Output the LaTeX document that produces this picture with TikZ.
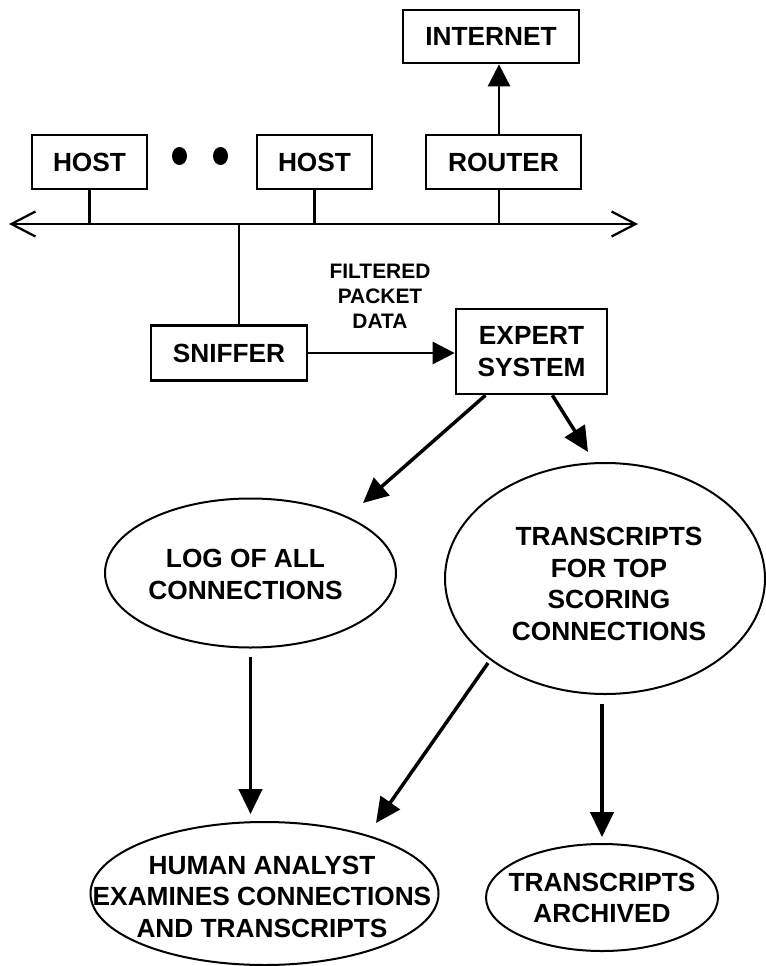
\documentclass[tikz,border=0pt]{standalone}
\usepackage{fontspec}
\setmainfont{Liberation Sans}
\usetikzlibrary{arrows.meta,shapes.geometric,calc}
\begin{document}
\begin{tikzpicture}[x=0.75pt,y=-0.75pt,
  boxnode/.style={draw, line width=2pt, rectangle, inner sep=0pt, align=center,
    font=\bfseries\fontsize{19.7pt}{23.6pt}\selectfont},
  ellnode/.style={draw, line width=1.5pt, ellipse, inner sep=0pt},
  txtnode/.style={inner sep=0pt, align=center, font=\bfseries\fontsize{19.7pt}{23.6pt}\selectfont},
  lblnode/.style={inner sep=0pt, align=center, font=\bfseries\fontsize{15.7pt}{18.75pt}\selectfont},
  wireline/.style={line width=1.7pt},
  arrthin/.style={line width=2pt, -{Triangle[length=16.5pt,width=16.5pt]}},
  arrthick/.style={line width=2.6pt, -{Triangle[length=18.75pt,width=17.5pt]}},
  blackdot/.style={ellipse, fill, inner sep=0pt, minimum width=11.25pt, minimum height=13.5pt}
]
\useasboundingbox (0,0) rectangle (765,966);

% boxes
\node[boxnode, minimum width=132pt, minimum height=39.75pt] (internet) at (491,36.5) {INTERNET};
\node[boxnode, minimum width=86.25pt, minimum height=40.5pt] (host1) at (89.5,162) {HOST};
\node[blackdot] (dot1) at (179.5,156) {};
\node[blackdot] (dot2) at (220.5,156) {};
\node[boxnode, minimum width=86.25pt, minimum height=40.5pt] (host2) at (314.5,162) {HOST};
\node[boxnode, minimum width=116.25pt, minimum height=40.5pt] (router) at (503.5,162) {ROUTER};
\node[boxnode, minimum width=117pt, minimum height=41.25pt] (sniffer) at (229,353) {SNIFFER};
\node[boxnode, minimum width=113.25pt, minimum height=63.75pt] (expert) at (531.5,351.5) {EXPERT\\SYSTEM};
\node[lblnode] (filt) at (380,296) {FILTERED\\PACKET\\DATA};

% bus coordinates
\coordinate (busL) at (9,224);
\coordinate (busR) at (638,224);
\coordinate (rdrop) at (499,224);
\coordinate (sdrop) at (239,224);

% ellipses
\node[ellnode, minimum width=218.25pt, minimum height=111.75pt] (logE) at (250.5,573) {};
\node[txtnode] (log) at (245.5,574.5) {LOG OF ALL\\CONNECTIONS};
\node[ellnode, minimum width=240pt, minimum height=173.25pt] (trE) at (605,578.5) {};
\node[txtnode] (tr) at (609,584) {TRANSCRIPTS\\FOR TOP\\SCORING\\CONNECTIONS};
\node[ellnode, minimum width=261pt, minimum height=107.25pt] (huE) at (264.5,893.5) {};
\node[txtnode] (hu) at (262,896.5) {HUMAN ANALYST\\EXAMINES CONNECTIONS\\AND TRANSCRIPTS};
\node[ellnode, minimum width=174pt, minimum height=80.25pt] (arE) at (602,897.5) {};
\node[txtnode] (ar) at (602,898) {TRANSCRIPTS\\ARCHIVED};

% network
\draw[wireline, {Straight Barb[length=18pt,width=18.75pt]}-{Straight Barb[length=18pt,width=18.75pt]}] (busL) -- (busR);
\draw[wireline] (host1.south) -- (host1.south |- busL);
\draw[wireline] (host2.south) -- (host2.south |- busL);
\draw[wireline] (router.south -| rdrop) -- (rdrop);
\draw[wireline] (sdrop) -- (sdrop |- sniffer.north);
\draw[arrthin] (router.north -| rdrop) -- (internet.south -| rdrop);
\draw[arrthin] (sniffer.east) -- (sniffer.east -| expert.west);

% flow arrows
\coordinate (logTip) at (363,503);
\coordinate (trTip) at (588,452);
\draw[arrthick] ($(expert.south west)!0.2!(expert.south east)$) -- (logTip);
\draw[arrthick] ($(expert.south west)!0.636!(expert.south east)$) -- (trTip);
\draw[arrthick, shorten <=6.4pt, shorten >=5.25pt] (logE.south) -- (logE.south |- huE.north);
\coordinate (t2h) at (488,663);
\coordinate (huTip) at (376,823);
\draw[arrthick] (t2h) -- (huTip);
\draw[arrthick, shorten <=6.75pt, shorten >=4.5pt] (arE.north |- trE.south) -- (arE.north);
\end{tikzpicture}
\end{document}
